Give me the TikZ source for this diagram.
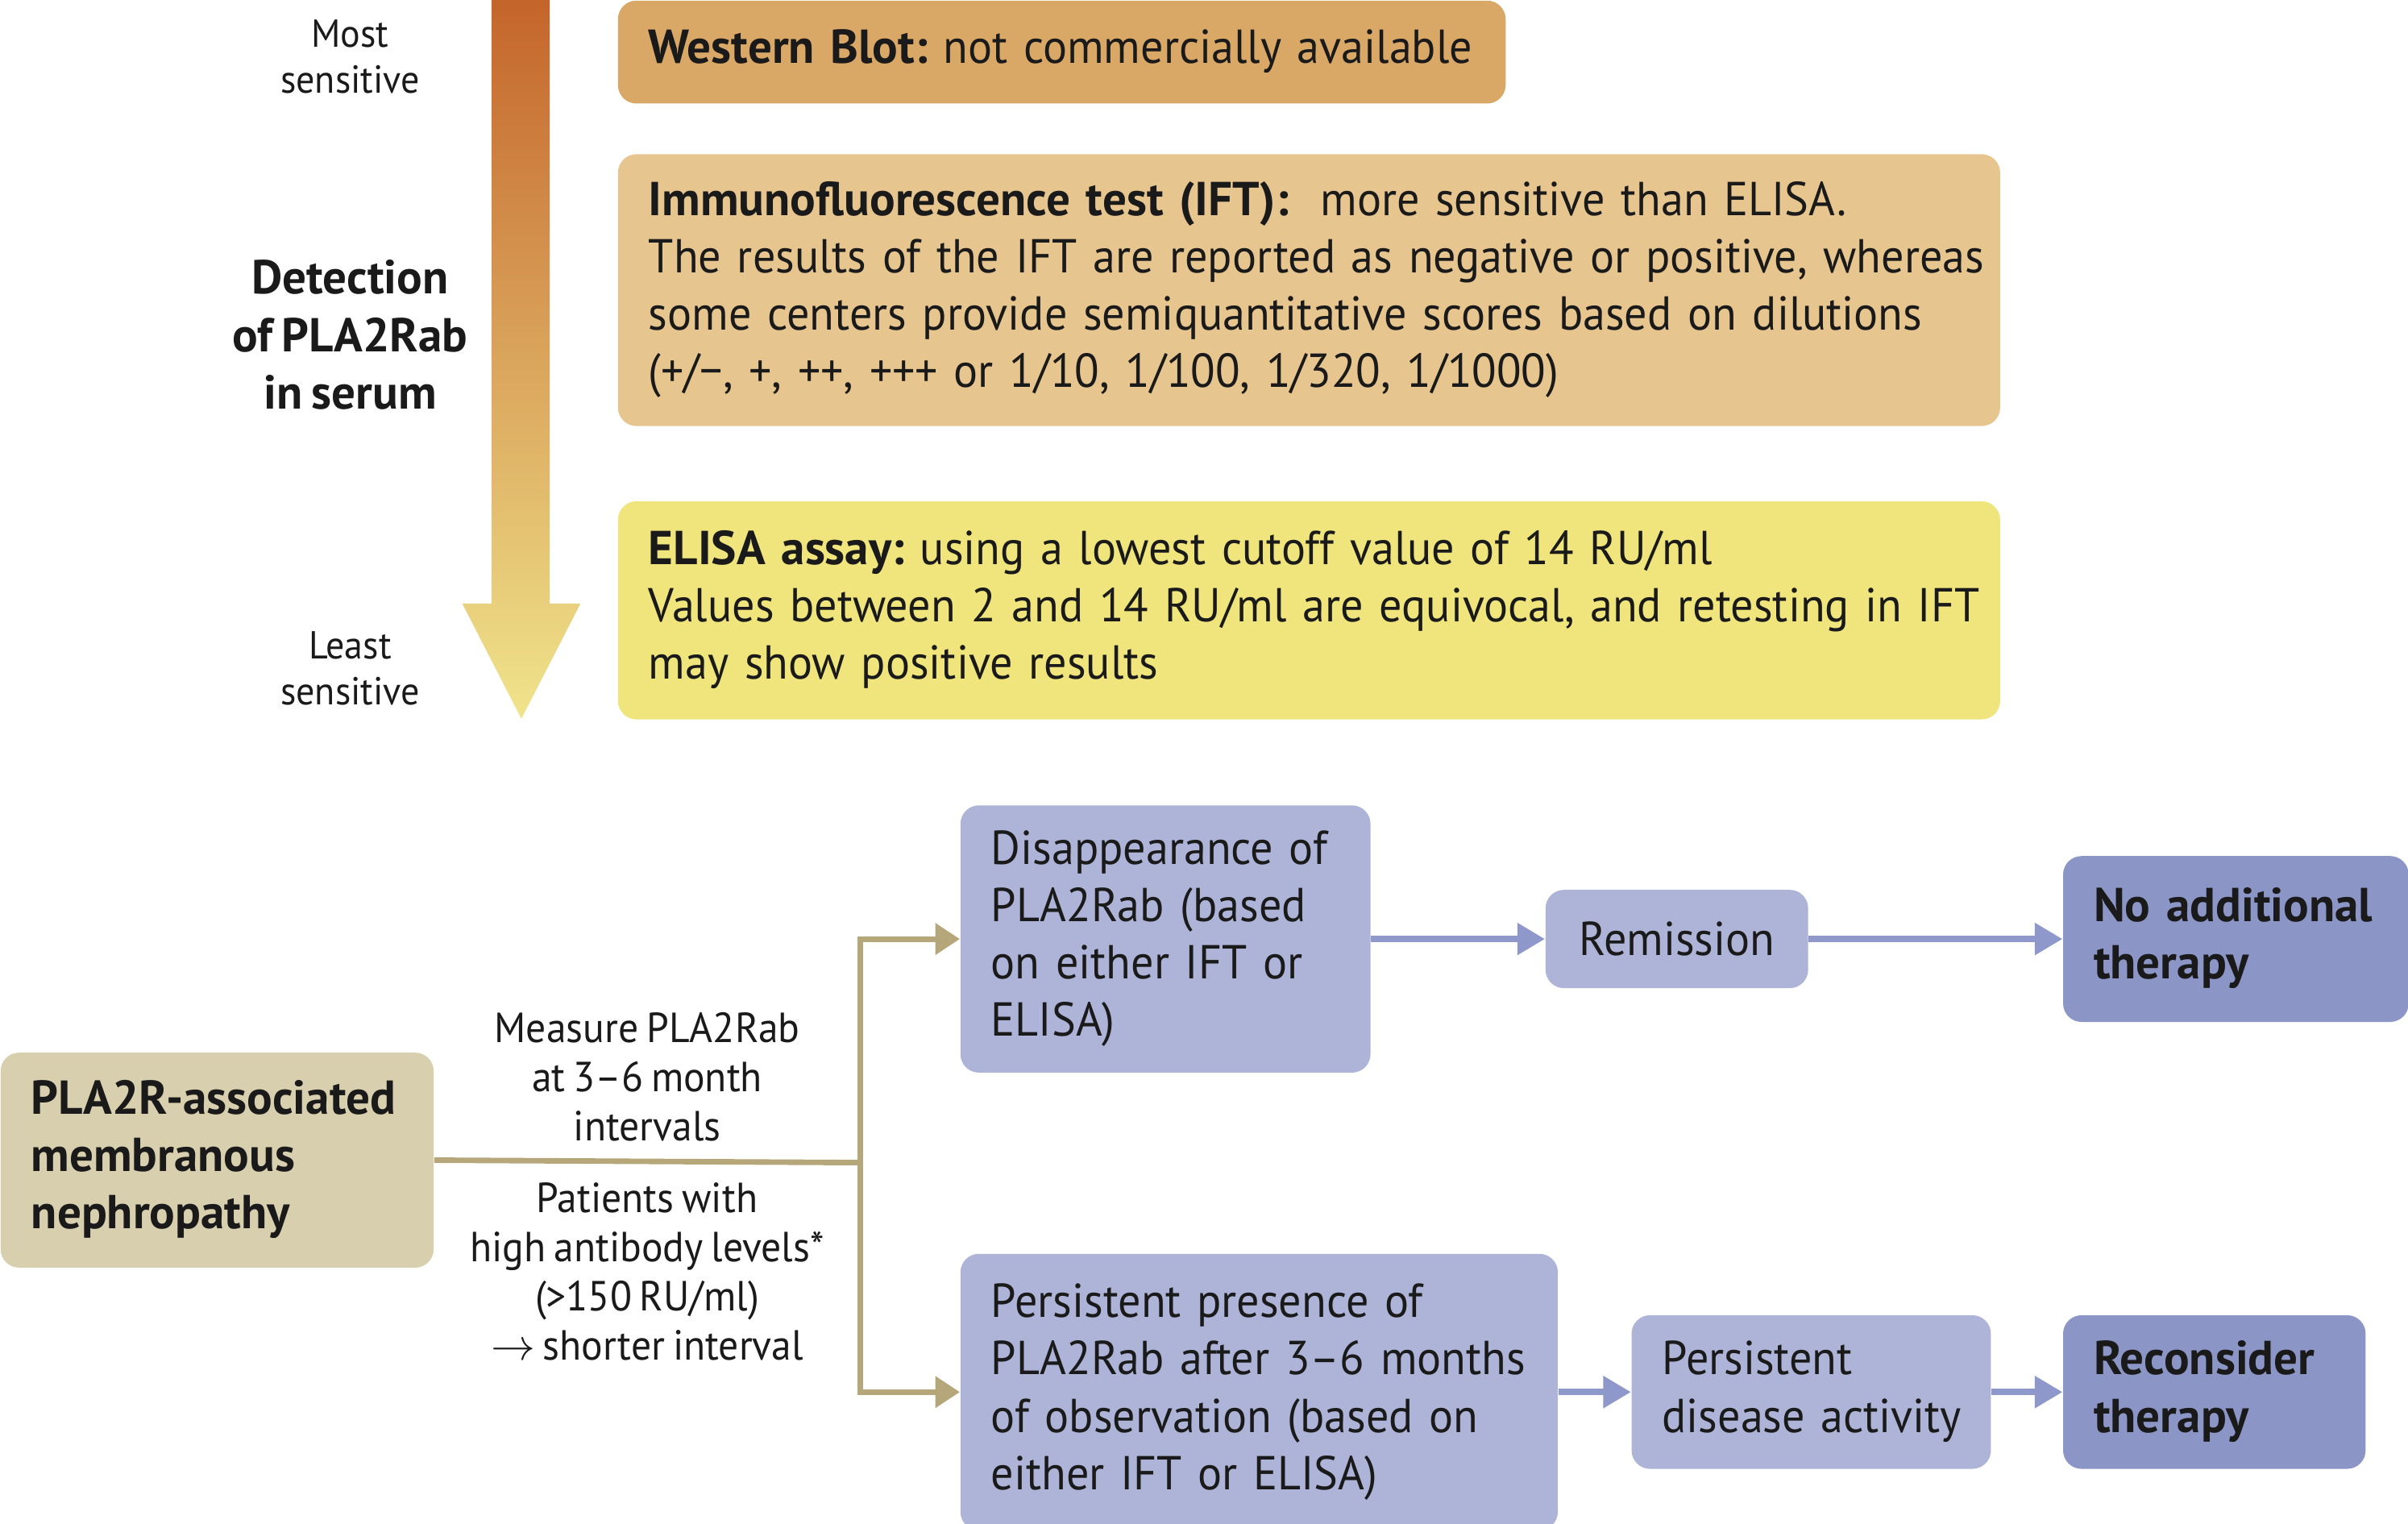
\documentclass[tikz,border=0pt]{standalone}
\usepackage{fontspec}
\setmainfont{PT Sans}[WordSpace=0.75, UprightFeatures={FakeStretch=0.95}]
\frenchspacing
\usetikzlibrary{arrows.meta}
\definecolor{wbcol}{RGB}{217,168,103}
\definecolor{iftcol}{RGB}{230,197,143}
\definecolor{elcol}{RGB}{240,229,125}
\definecolor{mncol}{RGB}{216,207,174}
\definecolor{ltblue}{RGB}{173,180,215}
\definecolor{dkblue}{RGB}{139,149,198}
\definecolor{khaki}{RGB}{181,167,122}
\definecolor{arblue}{RGB}{142,152,203}
\definecolor{txt}{RGB}{26,26,26}
\definecolor{grtop}{RGB}{196,101,43}
\definecolor{grbot}{RGB}{240,228,140}
% lines kept as typed, no wrapping
\newcommand{\boxlines}[1]{\begin{tabular}{@{}l@{}}#1\end{tabular}}

\begin{document}
\begin{tikzpicture}[x=0.5pt,y=-0.5pt,
		box/.style={rectangle, rounded corners=6pt, anchor=north west, inner xsep=10pt, inner ysep=0pt, align=left, text=txt, font=\fontsize{15.5}{18.65}\selectfont},
		lbl/.style={align=center, text=txt, font=\fontsize{13.7}{16}\selectfont},
		side/.style={align=center, text=txt, font=\fontsize{12.7}{15}\selectfont},
		kline/.style={draw=khaki, line width=1.8pt},
		karrow/.style={kline, -{Triangle[length=8pt,width=10pt]}},
		barrow/.style={draw=arblue, line width=2.1pt, -{Triangle[length=9pt,width=10pt]}}]
		\useasboundingbox (0,0) rectangle (1568,992);
		% Sensitivity scale
		\shade[top color=grtop, bottom color=grbot] (320,0) -- (358,0) -- (358,393) -- (378,393) -- (339.5,468) -- (301,393) -- (320,393) -- cycle;
		\node[side](most) at (228,37) {Most\\sensitive};
		\node[side](least) at (228,435) {Least\\sensitive};
		\node[align=center, text=txt, font=\fontsize{15.5}{18.65}\selectfont\bfseries](det) at (228,218) {Detection\\of PLA2Rab\\in serum};
		% Tests
		\node[box, fill=wbcol, text width=269pt, minimum height=33.5pt](wb) at (402,0) {\boxlines{\textbf{Western Blot:} not commercially available}};
		\node[box, fill=iftcol, text width=430pt, minimum height=88.5pt](ift) at (402,100) {\boxlines{\textbf{Immunofluorescence test (IFT):}\ \ more sensitive than ELISA.\\The results of the IFT are reported as negative or positive, whereas\\some centers provide semiquantitative scores based on dilutions\\(+/−, +, ++, +++ or 1/10, 1/100, 1/320, 1/1000)}};
		\node[box, fill=elcol, text width=430pt, minimum height=71pt](elisa) at (402,326) {\boxlines{\textbf{ELISA assay:} using a lowest cutoff value of 14 RU/ml\\Values between 2 and 14 RU/ml are equivocal, and retesting in IFT\\may show positive results}};
		% Follow-up
		\node[box, fill=mncol, text width=121pt, minimum height=70pt, font=\fontsize{15.5}{18.65}\selectfont\bfseries](mn) at (0,685) {\boxlines{PLA2R-associated\\membranous\\nephropathy}};
		\node[box, fill=ltblue, text width=113.5pt, minimum height=87pt](disap) at (625,524) {\boxlines{Disappearance of\\PLA2Rab (based\\on either IFT or\\ELISA)}};
		\node[box, fill=ltblue, text width=65.5pt, minimum height=32pt, align=center](remis) at (1006,579) {Remission};
		\node[box, fill=dkblue, text width=92.5pt, minimum height=54pt, font=\fontsize{15.5}{18.65}\selectfont\bfseries](noadd) at (1343,557) {\boxlines{No additional\\therapy}};
		\node[box, fill=ltblue, text width=174.5pt, minimum height=90pt](pers) at (625,816) {\boxlines{Persistent presence of\\PLA2Rab after 3--6 months\\of observation (based on\\either IFT or ELISA)}};
		\node[box, fill=ltblue, text width=97pt, minimum height=50pt](act) at (1062,856) {\boxlines{Persistent\\disease activity}};
		\node[box, fill=dkblue, text width=78.5pt, minimum height=50pt, font=\fontsize{15.5}{18.65}\selectfont\bfseries](recon) at (1343,856) {\boxlines{Reconsider\\therapy}};
		% Connectors
		\coordinate (jn) at (560,757);
		\draw[kline] (mn.east) -- node[lbl, yshift=27.5pt]{Measure PLA2Rab\\at 3--6 month\\intervals} node[lbl, yshift=-36pt]{Patients with\\high antibody levels*\\(>150 RU/ml)\\$\rightarrow$ shorter interval} (jn);
		\draw[karrow] (jn) |- (disap.west);
		\draw[karrow] (jn) |- (pers.west);
		\draw[barrow] (disap.east) -- (remis.west);
		\draw[barrow] (remis.east) -- (noadd.west);
		\draw[barrow] (pers.east) -- (act.west);
		\draw[barrow] (act.east) -- (recon.west);
	\end{tikzpicture}
\end{document}
